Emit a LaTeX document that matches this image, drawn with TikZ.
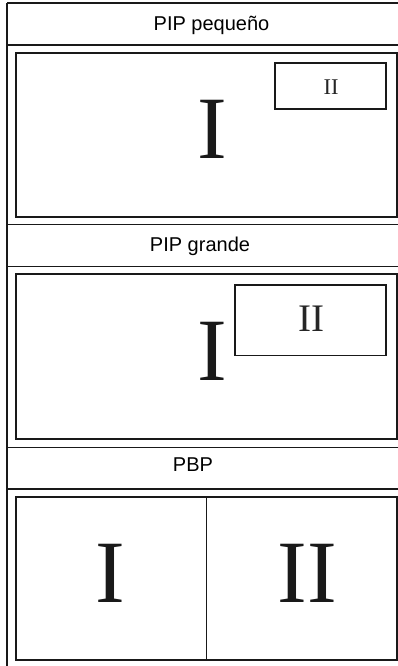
\documentclass[tikz,border=0pt]{standalone}
\usepackage{fontspec}
\setmainfont{Liberation Serif}
\newfontfamily\headfont{Liberation Sans}
\begin{document}
\begin{tikzpicture}[x=1pt,y=-1pt,
  rule/.style={line width=1.6pt,draw=black!90},
  frame/.style={line width=1.6pt,draw=black!90},
  thinrule/.style={line width=1.1pt,draw=black!90},
  head/.style={font=\headfont\fontsize{20}{20}\selectfont,anchor=base,inner sep=0pt},
  bigI/.style={font=\fontsize{89}{89}\selectfont,anchor=base,inner sep=0pt,text=black!90},
  smallII/.style={font=\fontsize{22.5}{22.5}\selectfont,anchor=base,inner sep=0pt,text=black!85},
  midII/.style={font=\fontsize{39}{39}\selectfont,anchor=base,inner sep=0pt,text=black!85}]
\useasboundingbox (0,0) rectangle (398,666);
% outer table lines
\draw[rule] (7,3) -- (7,666);
\draw[rule] (7,3) -- (399,3);
\draw[rule] (7,45) -- (399,45);
\draw[rule] (7,224.5) -- (399,224.5);
\draw[rule] (7,266.5) -- (399,266.5);
\draw[rule] (7,447.5) -- (399,447.5);
\draw[rule] (7,489) -- (399,489);
% headers
\node[head] (h1) at (211.5,31) {PIP pequeño};
\node[head] (h2) at (200,251.7) {PIP grande};
\node[head] (h3) at (193,471.7) {PBP};
% PIP pequeno
\draw[frame] (15.7,53) rectangle (397,217);
\node[bigI] (p1I) at (212,158) {I};
\draw[frame] (275,63) rectangle (386,109);
\node[smallII] (p1II) at (331,95) {II};
% PIP grande
\draw[frame] (15.7,274) rectangle (397,439);
\node[bigI] (p2I) at (212,380) {I};
\draw[frame] (235,285) rectangle (386,355.5);
\node[midII] (p2II) at (311,331) {II};
% PBP
\draw[frame] (15.7,497) rectangle (397,660);
\draw[thinrule] (206.7,497) -- (206.7,660);
\node[bigI] (p3I) at (110,602) {I};
\node[bigI] (p3II) at (307,602) {II};
\end{tikzpicture}
\end{document}
